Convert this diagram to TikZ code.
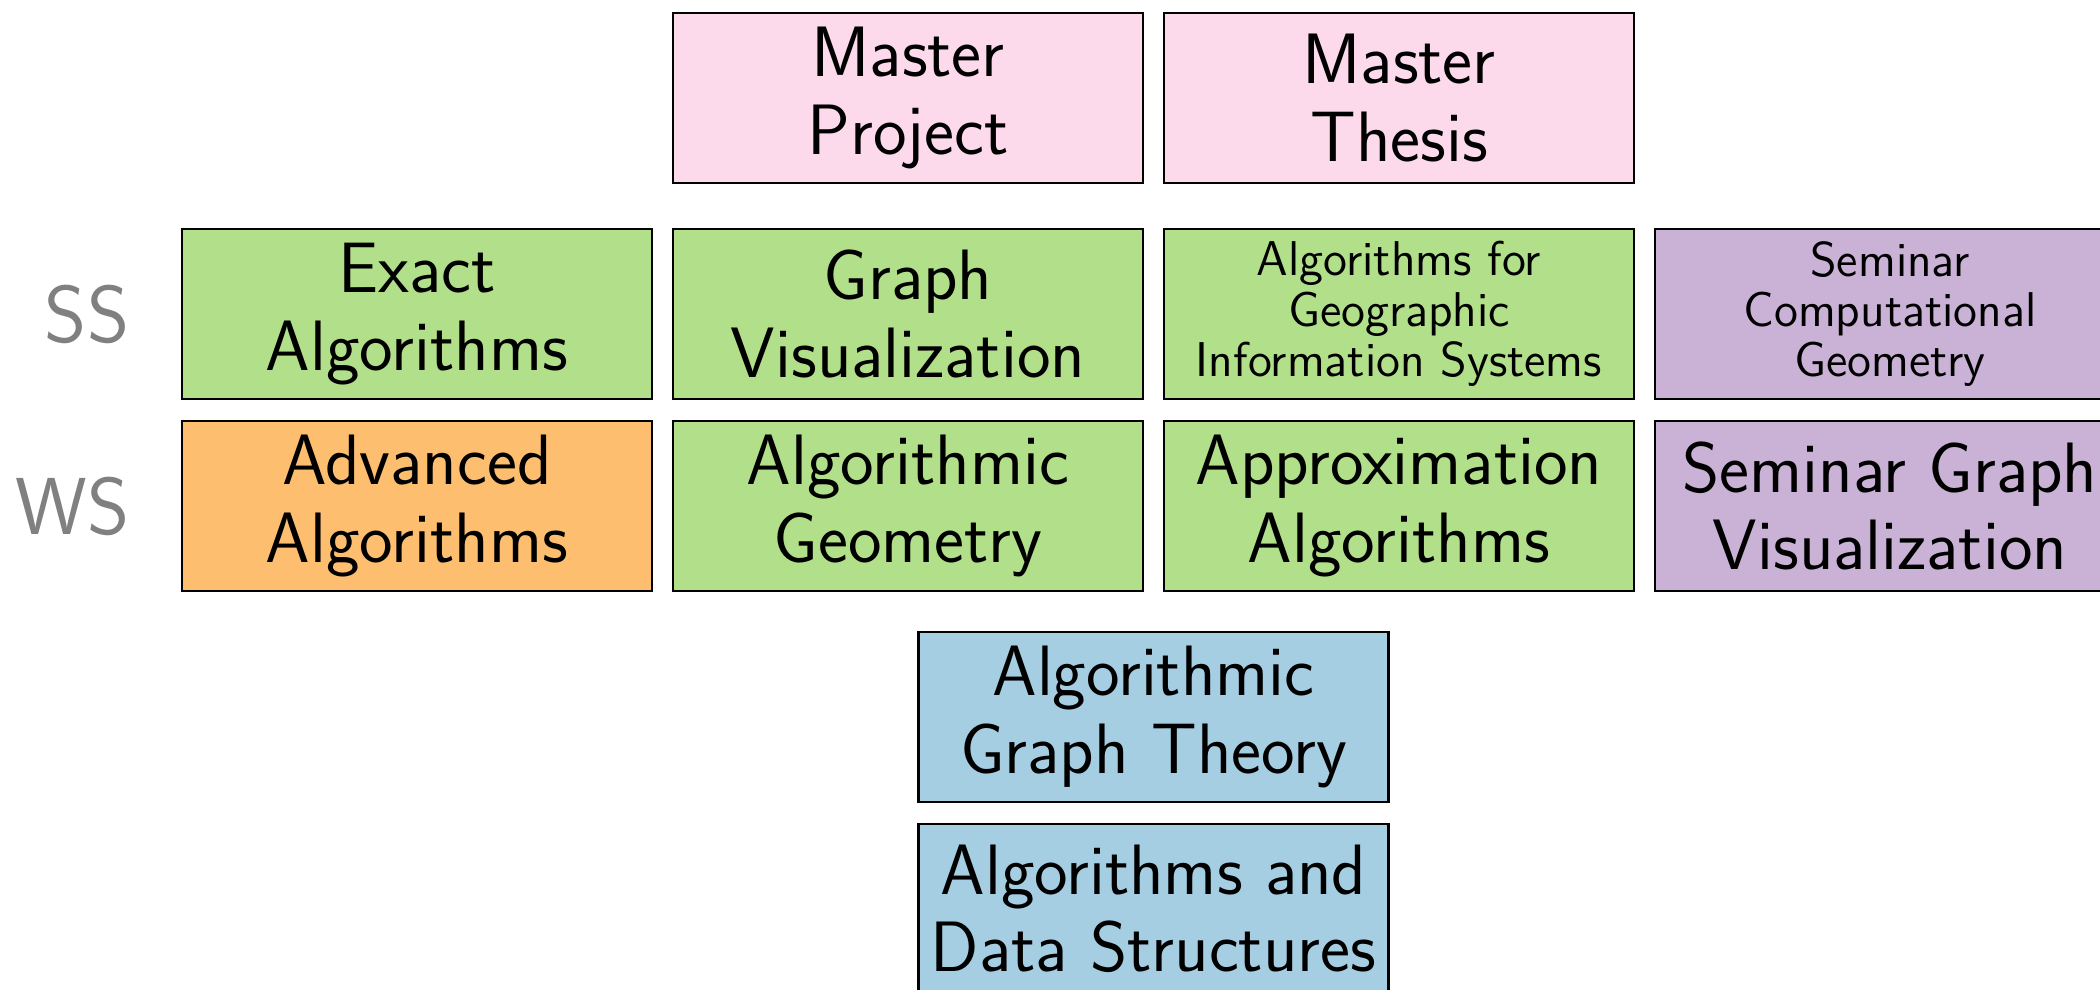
\documentclass[tikz,border=0pt]{standalone}
\usepackage[dvipsnames]{xcolor}
\usetikzlibrary{positioning}

\definecolor{pinkbox}{HTML}{FCDAEC}
\definecolor{greenbox}{HTML}{B2DF8A}
\definecolor{orangebox}{HTML}{FDBF6F}
\definecolor{purplebox}{HTML}{CAB2D6}
\definecolor{bluebox}{HTML}{A6CEE3}

\tikzset{
    kurs/.style={draw=black, line width=0.8pt, minimum width=4.7cm, minimum height=1.7cm,
        align=center, inner sep=2pt, font=\sffamily\fontsize{20.3}{22}\selectfont},
    klein/.style={font=\sffamily\fontsize{13.9}{14.3}\selectfont},
    semester/.style={text=black!50, font=\sffamily\fontsize{23}{28}\selectfont, anchor=east, inner sep=0pt},
}

\begin{document}
\begin{tikzpicture}
    \useasboundingbox (0,0) rectangle (21,-9.9);
    % Spalten und Zeilen
    \def\ca{4.17} \def\cb{9.08} \def\cc{13.99} \def\cd{18.90}
    \def\cm{11.535}

    % Master
    \node[kurs, fill=pinkbox] (mproj) at (\cb,-0.98) {Master\\Project};
    \node[kurs, fill=pinkbox] (mthesis) at (\cc,-0.98) {Master\\Thesis};

    % Sommersemester
    \node[semester] (ss) at (1.30,-3.14) {SS};
    \node[kurs, fill=greenbox] (exalg) at (\ca,-3.14) {Exact\\Algorithms};
    \node[kurs, fill=greenbox] (gvis) at (\cb,-3.14) {Graph\\Visualization};
    \node[kurs, klein, fill=greenbox] (gis) at (\cc,-3.14) {Algorithms for\\Geographic\\Information Systems};
    \node[kurs, klein, fill=purplebox] (semcg) at (\cd,-3.14) {Seminar\\Computational\\Geometry};

    % Wintersemester
    \node[semester] (ws) at (1.30,-5.06) {WS};
    \node[kurs, fill=orangebox] (advalg) at (\ca,-5.06) {Advanced\\Algorithms};
    \node[kurs, fill=greenbox] (ageo) at (\cb,-5.06) {Algorithmic\\Geometry};
    \node[kurs, fill=greenbox] (approx) at (\cc,-5.06) {Approximation\\Algorithms};
    \node[kurs, fill=purplebox] (semgv) at (\cd,-5.06) {Seminar Graph\\Visualization};

    % Grundlagen
    \node[kurs, fill=bluebox] (agt) at (\cm,-7.17) {Algorithmic\\Graph Theory};
    \node[kurs, fill=bluebox] (ads) at (\cm,-9.09) {Algorithms and\\Data Structures};
\end{tikzpicture}
\end{document}
